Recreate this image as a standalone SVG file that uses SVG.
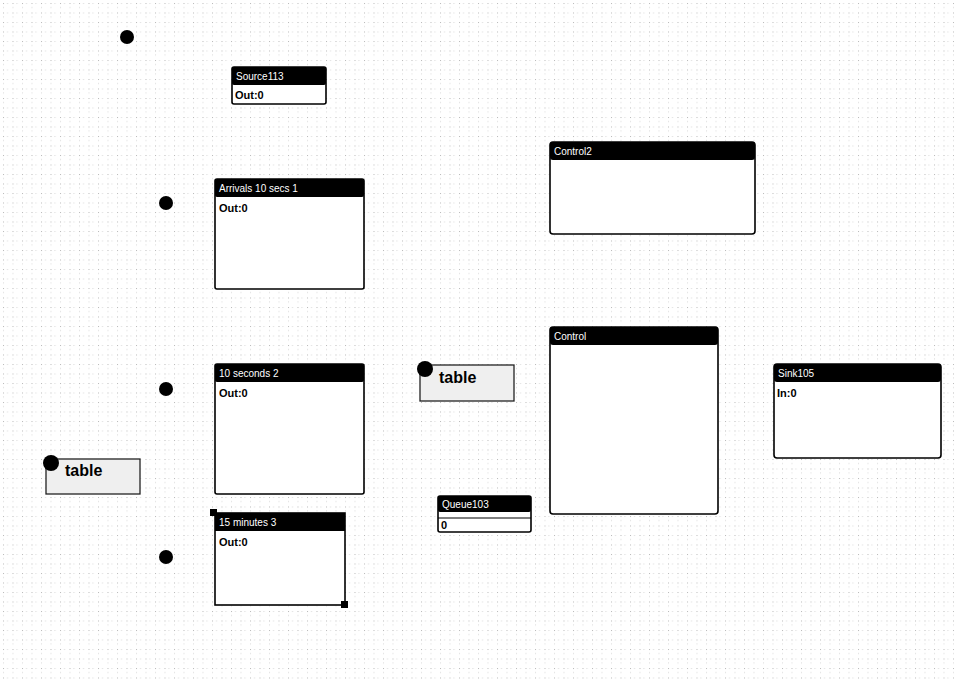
<svg xmlns="http://www.w3.org/2000/svg" width="954" height="679" viewBox="0 0 954 679">
<defs>
<pattern id="grid" x="3" y="3" width="9.5" height="9.5" patternUnits="userSpaceOnUse">
<rect x="0" y="0" width="1" height="1" fill="#b8b8b8"/>
<rect x="0" y="4" width="1" height="1" fill="#d8d8d8"/>
<rect x="4" y="0" width="1" height="1" fill="#d8d8d8"/>
</pattern>
<style>
.box{fill:#fff;stroke:#000;stroke-width:1.6}
.hdr{fill:#000}
.ht{font-family:"Liberation Sans",Arial,sans-serif;font-size:10px;fill:#fff}
.bt{font-family:"Liberation Sans",Arial,sans-serif;font-size:11px;font-weight:bold;fill:#000}
.tbl{fill:#efefef;stroke:#222;stroke-width:1.3}
.tt{font-family:"Liberation Sans",Arial,sans-serif;font-size:16px;font-weight:bold;fill:#000}
.dot{fill:#000}
</style>
</defs>
<rect width="954" height="679" fill="#fff"/>
<rect width="954" height="679" fill="url(#grid)"/>
<g id="connectors"></g>
<g id="dot1"><circle class="dot" cx="127" cy="37" r="7"/></g>
<g id="dot2"><circle class="dot" cx="166" cy="203" r="7"/></g>
<g id="dot3"><circle class="dot" cx="166" cy="389" r="7"/></g>
<g id="dot4"><circle class="dot" cx="166" cy="557" r="7"/></g>
<g id="source113">
<rect class="box" x="232" y="67" width="94" height="37" rx="2"/>
<rect class="hdr" x="232" y="67" width="94" height="18" rx="2"/>
<text class="ht" x="236" y="80">Source113</text>
<text class="bt" x="235" y="99">Out:0</text>
</g>
<g id="arrivals">
<rect class="box" x="215" y="179" width="149" height="110" rx="2"/>
<rect class="hdr" x="215" y="179" width="149" height="18" rx="2"/>
<text class="ht" x="219" y="192">Arrivals 10 secs 1</text>
<text class="bt" x="219" y="212">Out:0</text>
</g>
<g id="control2">
<rect class="box" x="550" y="142" width="205" height="92" rx="3"/>
<rect class="hdr" x="550" y="142" width="205" height="18" rx="3"/>
<text class="ht" x="554" y="155">Control2</text>
</g>
<g id="control">
<rect class="box" x="550" y="327" width="168" height="187" rx="3"/>
<rect class="hdr" x="550" y="327" width="168" height="18" rx="3"/>
<text class="ht" x="554" y="340">Control</text>
</g>
<g id="seconds10">
<rect class="box" x="215" y="364" width="149" height="130" rx="2"/>
<rect class="hdr" x="215" y="364" width="149" height="18" rx="2"/>
<text class="ht" x="219" y="377">10 seconds 2</text>
<text class="bt" x="219" y="397">Out:0</text>
</g>
<g id="table1">
<rect class="tbl" x="420" y="365" width="94" height="36"/>
<circle class="dot" cx="425" cy="369" r="8"/>
<text class="tt" x="439" y="383">table</text>
</g>
<g id="sink">
<rect class="box" x="774" y="364" width="167" height="94" rx="3"/>
<rect class="hdr" x="774" y="364" width="167" height="18" rx="3"/>
<text class="ht" x="778" y="377">Sink105</text>
<text class="bt" x="777" y="397">In:0</text>
</g>
<g id="table2">
<rect class="tbl" x="46" y="459" width="94" height="35"/>
<circle class="dot" cx="51" cy="463" r="8"/>
<text class="tt" x="65" y="476">table</text>
</g>
<g id="queue103">
<rect class="box" x="438" y="496" width="93" height="36" rx="2"/>
<rect class="hdr" x="438" y="496" width="93" height="16" rx="2"/>
<line x1="438" y1="518" x2="531" y2="518" stroke="#000" stroke-width="1.2"/>
<text class="ht" x="442" y="508">Queue103</text>
<text class="bt" x="441" y="529">0</text>
</g>
<g id="minutes15">
<rect class="box" x="215" y="513" width="130" height="92"/>
<rect class="hdr" x="215" y="513" width="130" height="18"/>
<text class="ht" x="219" y="526">15 minutes 3</text>
<text class="bt" x="219" y="546">Out:0</text>
<rect x="210" y="509" width="7" height="7" fill="#000"/>
<rect x="341" y="601" width="7" height="7" fill="#000"/>
</g>
</svg>
